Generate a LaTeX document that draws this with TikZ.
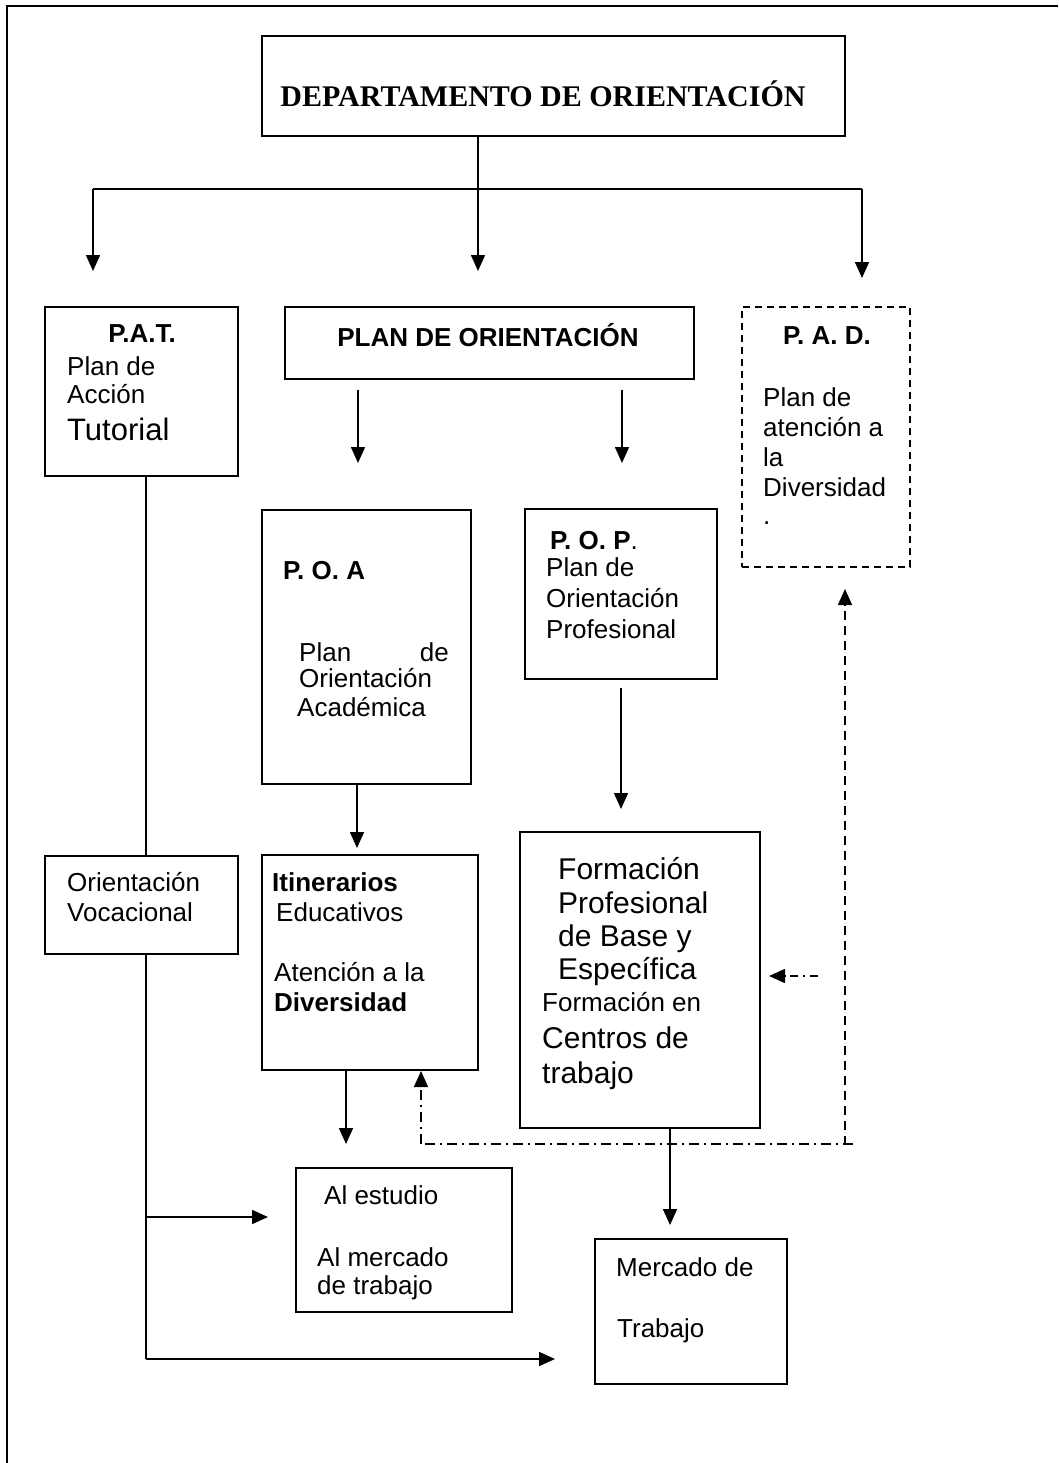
\documentclass[tikz,border=0pt]{standalone}
\usepackage{fontspec}
\setmainfont{Liberation Sans}
\newfontfamily\tnr{Liberation Serif}
\usetikzlibrary{arrows.meta}
\begin{document}
\begin{tikzpicture}[x=1pt,y=-1pt,
  ln/.style={line width=1.6pt},
  head/.style={-{Triangle[length=16pt,width=14pt]}},
  tip/.style={ln,head},
  box/.style={draw,line width=1.6pt,inner sep=0pt,outer sep=0pt},
  dbox/.style={box,dash pattern=on 7pt off 5pt},
  dashed line/.style={tip,dash pattern=on 9pt off 6pt},
  dashdot line/.style={ln,dash pattern=on 10pt off 5pt on 2pt off 5pt},
  txt/.style={anchor=base west,inner sep=0pt,font=\fontsize{26}{30}\selectfont},
  big/.style={anchor=base west,inner sep=0pt,font=\fontsize{30}{34}\selectfont},
  btxt/.style={txt,font=\fontsize{26}{30}\selectfont\bfseries}]
\useasboundingbox (0,0) rectangle (1058,1463);
% page frame (top and left edges)
\draw[line width=2pt] (7,1463) -- (7,6) -- (1058,6);

% boxes
\node[box,line width=2pt,minimum width=583pt,minimum height=100pt] (dep) at (553.5,86) {};
\node[box,minimum width=193pt,minimum height=169pt] (pat) at (141.5,391.5) {};
\node[box,minimum width=409pt,minimum height=72pt] (plan) at (489.5,343) {};
\node[dbox,minimum width=168pt,minimum height=260pt] (pad) at (826,437) {};
\node[box,minimum width=209pt,minimum height=274pt] (poa) at (366.5,647) {};
\node[box,minimum width=192pt,minimum height=170pt] (pop) at (621,594) {};
\node[box,minimum width=216pt,minimum height=215pt] (itin) at (370,962.5) {};
\node[box,minimum width=240pt,minimum height=296pt] (form) at (640,980) {};
\node[box,minimum width=193pt,minimum height=98pt] (ov) at (141.5,905) {};
\node[box,minimum width=216pt,minimum height=144pt] (est) at (404,1240) {};
\node[box,minimum width=192pt,minimum height=145pt] (merc) at (691,1311.5) {};

% texts
\node[anchor=base,inner sep=0pt,font=\tnr\fontsize{30}{34}\selectfont\bfseries] (tdep) at (543,107) {DEPARTAMENTO DE ORIENTACIÓN};

\node[btxt,anchor=base] (tpat1) at (142,342) {P.A.T.};
\node[txt] (tpat2) at (67,375) {Plan de};
\node[txt] (tpat3) at (67,403) {Acción};
\node[txt,font=\fontsize{31}{34}\selectfont] (tpat4) at (67,440) {Tutorial};

\node[btxt,anchor=base] (tplan) at (488,346) {PLAN DE ORIENTACIÓN};

\node[btxt,anchor=base] (tpad1) at (827,344) {P. A. D.};
\node[txt] (tpad2) at (763,406) {Plan de};
\node[txt] (tpad3) at (763,436) {atención a};
\node[txt] (tpad4) at (763,466) {la};
\node[txt] (tpad5) at (763,496) {Diversidad};
\node[txt] (tpad6) at (763,524) {.};

\node[btxt] (tpoa1) at (283,579) {P. O. A};
\node[txt] (tpoa2) at (299,661) {Plan};
\node[txt,anchor=base east] (tpoa3) at (449,661) {de};
\node[txt] (tpoa4) at (299,687) {Orientación};
\node[txt] (tpoa5) at (297,716) {Académica};

\node[txt] (tpop1) at (550,549) {\textbf{P. O. P}.};
\node[txt] (tpop2) at (546,576) {Plan de};
\node[txt] (tpop3) at (546,607) {Orientación};
\node[txt] (tpop4) at (546,638) {Profesional};

\node[btxt] (tit1) at (272,891) {Itinerarios};
\node[txt] (tit2) at (276,921) {Educativos};
\node[txt] (tit3) at (274,981) {Atención a la};
\node[btxt] (tit4) at (274,1011) {Diversidad};

\node[big] (tf1) at (558,879) {Formación};
\node[big] (tf2) at (558,913) {Profesional};
\node[big] (tf3) at (558,946) {de Base y};
\node[big] (tf4) at (558,979) {Específica};
\node[txt] (tf5) at (542,1011) {Formación en};
\node[big] (tf6) at (542,1048) {Centros de};
\node[big] (tf7) at (542,1083) {trabajo};

\node[txt] (tov1) at (67,891) {Orientación};
\node[txt] (tov2) at (67,921) {Vocacional};

\node[txt] (test1) at (324,1204) {Al estudio};
\node[txt] (test2) at (317,1266) {Al mercado};
\node[txt] (test3) at (317,1294) {de trabajo};

\node[txt] (tm1) at (616,1276) {Mercado de};
\node[txt] (tm2) at (617,1337) {Trabajo};

% connector points
\coordinate (trunk) at (478,136);
\coordinate (jl) at (93,189);
\coordinate (jm) at (478,189);
\coordinate (jr) at (862,189);
\coordinate (apat) at (93,271);
\coordinate (aplan) at (478,271);
\coordinate (apad) at (862,278);
\coordinate (pl1) at (358,390);
\coordinate (pl1e) at (358,463);
\coordinate (pl2) at (622,390);
\coordinate (pl2e) at (622,463);
\coordinate (patline) at (146,476);
\coordinate (ovtop) at (146,856);
\coordinate (ovbot) at (146,954);
\coordinate (vbr) at (146,1217);
\coordinate (aest) at (268,1217);
\coordinate (vend) at (146,1359);
\coordinate (amerc) at (555,1359);
\coordinate (poabot) at (357,784);
\coordinate (aitin) at (357,848);
\coordinate (popbot) at (621,688);
\coordinate (aform) at (621,809);
\coordinate (itinbot) at (346,1070);
\coordinate (aest2) at (346,1144);
\coordinate (formbot) at (670,1128);
\coordinate (amerc2) at (670,1225);
\coordinate (dr) at (853,1144);
\coordinate (dv) at (845,1145);
\coordinate (apad2) at (845,589);
\coordinate (dl) at (421,1144);
\coordinate (aitin2) at (421,1071);
\coordinate (sd) at (818,976);
\coordinate (aform2) at (769,976);

% main tree
\draw[ln] (trunk) -- (jm);
\draw[ln] (jl) -- (jr);
\draw[tip] (jl) -- (apat);
\draw[tip] (jm) -- (aplan);
\draw[tip] (jr) -- (apad);
\draw[tip] (pl1) -- (pl1e);
\draw[tip] (pl2) -- (pl2e);
\draw[tip] (poabot) -- (aitin);
\draw[tip] (popbot) -- (aform);
\draw[tip] (itinbot) -- (aest2);
\draw[tip] (formbot) -- (amerc2);

% tutorial line
\draw[ln] (patline) -- (ovtop);
\draw[ln] (ovbot) -- (vend);
\draw[tip] (vend) -- (amerc);
\draw[tip] (vbr) -- (aest);

% diversity feedback
\draw[dashdot line] (dr) -- (dl);
\draw[dashdot line,head] (dl) -- (aitin2);
\draw[dashed line] (dv) -- (apad2);
\draw[ln,dash pattern=on 8pt off 5pt on 2pt off 5pt,head] (sd) -- (aform2);
\end{tikzpicture}
\end{document}
